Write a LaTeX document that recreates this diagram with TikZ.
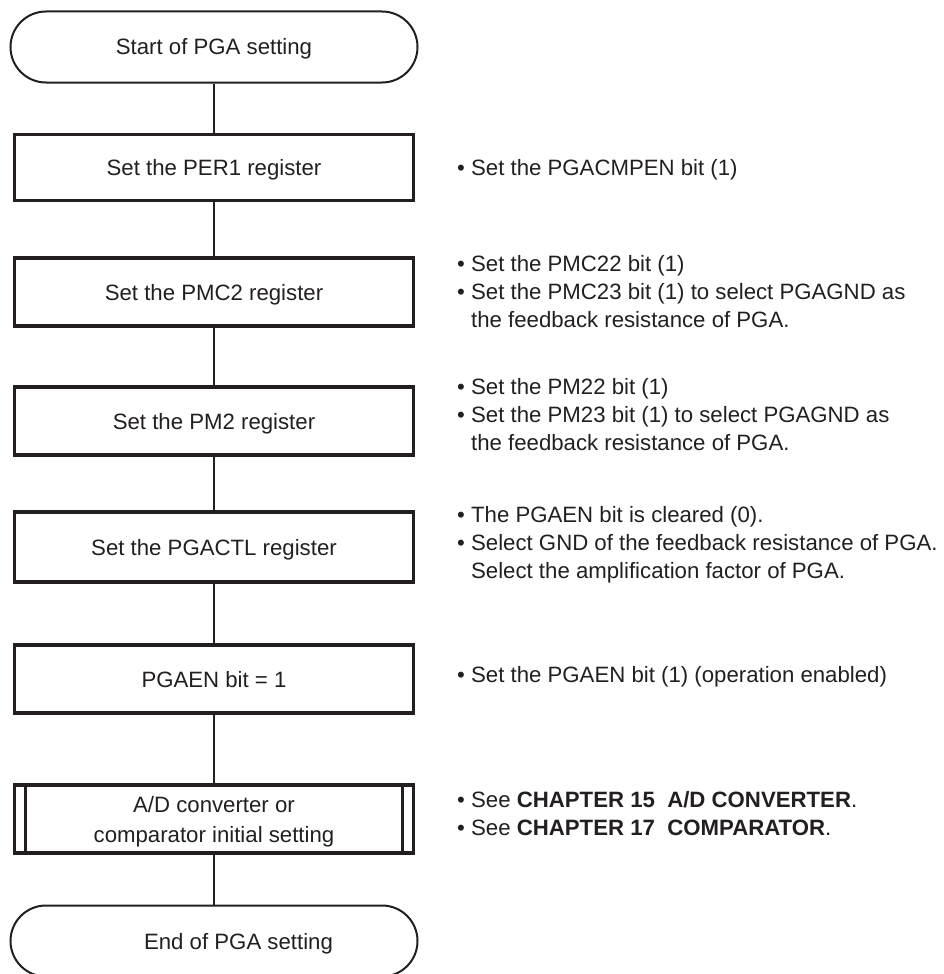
\documentclass[tikz,border=0pt]{standalone}
\usepackage{fontspec}
\setmainfont{Liberation Sans}
\definecolor{ink}{HTML}{231F20}
\begin{document}
\begin{tikzpicture}[x=1pt,y=-1pt,
  every node/.style={font=\fontsize{22.2}{28}\selectfont, text=ink, inner sep=0pt},
  oneline/.style={text height=16pt, text depth=0pt},
  term/.style={draw=ink, line width=2pt, rounded corners=35.5pt, minimum width=407pt, minimum height=71pt, oneline},
  procbox/.style={draw=ink, line width=3.5pt, minimum width=399pt, minimum height=68pt},
  flow/.style={draw=ink, line width=1.3pt},
  subline/.style={draw=ink, line width=3pt},
  note/.style={anchor=base west}]
\useasboundingbox (0,0) rectangle (944,974);
\clip (0,0) rectangle (944,974);

% flow chart
\node[term] (start) at (214,47) {Start of PGA setting};
\node[procbox, oneline, minimum height=66pt] (per1) at (214,167.5) {Set the PER1 register};
\node[procbox, oneline] (pmc2) at (214,292) {Set the PMC2 register};
\node[procbox, oneline] (pm2) at (214,421) {Set the PM2 register};
\node[procbox, oneline, minimum height=70pt] (pgactl) at (214,547) {Set the PGACTL register};
\node[procbox, oneline] (pgaen) at (214,679) {PGAEN bit = 1};
\node[procbox] (sub) at (214,819) {};
\node[align=center, font=\fontsize{22.2}{30}\selectfont] (subtext) at (214,822) {A/D converter or\\comparator initial setting};
\node[term] (end) at (214,941) {\hspace*{49pt}End of PGA setting};

\draw[subline] ([xshift=13pt]sub.north west) -- ([xshift=13pt]sub.south west);
\draw[subline] ([xshift=-13pt]sub.north east) -- ([xshift=-13pt]sub.south east);

\draw[flow] (start.south) -- (per1.north);
\draw[flow] (per1.south) -- (pmc2.north);
\draw[flow] (pmc2.south) -- (pm2.north);
\draw[flow] (pm2.south) -- (pgactl.north);
\draw[flow] (pgactl.south) -- (pgaen.north);
\draw[flow] (pgaen.south) -- (sub.north);
\draw[flow] (sub.south) -- (end.north);

% notes
\node[note] (n1) at (457,175) {\textbullet\ Set the PGACMPEN bit (1)};
\node[note] (n2) at (457,271) {\begin{tabular}[t]{@{}l@{}}\textbullet\ Set the PMC22 bit (1)\\
  \textbullet\ Set the PMC23 bit (1) to select PGAGND as\\
  \hphantom{\textbullet\ }the feedback resistance of PGA.\end{tabular}};
\node[note] (n3) at (457,394) {\begin{tabular}[t]{@{}l@{}}\textbullet\ Set the PM22 bit (1)\\
  \textbullet\ Set the PM23 bit (1) to select PGAGND as\\
  \hphantom{\textbullet\ }the feedback resistance of PGA.\end{tabular}};
\node[note] (n4) at (457,522) {\begin{tabular}[t]{@{}l@{}}\textbullet\ The PGAEN bit is cleared (0).\\
  \textbullet\ Select GND of the feedback resistance of PGA.\\
  \hphantom{\textbullet\ }Select the amplification factor of PGA.\end{tabular}};
\node[note] (n5) at (457,682) {\textbullet\ Set the PGAEN bit (1) (operation enabled)};
\node[note] (n6) at (457,807) {\begin{tabular}[t]{@{}l@{}}\textbullet\ See \textbf{CHAPTER 15\ \ A/D CONVERTER}.\\
  \textbullet\ See \textbf{CHAPTER 17\ \ COMPARATOR}.\end{tabular}};
\end{tikzpicture}
\end{document}
